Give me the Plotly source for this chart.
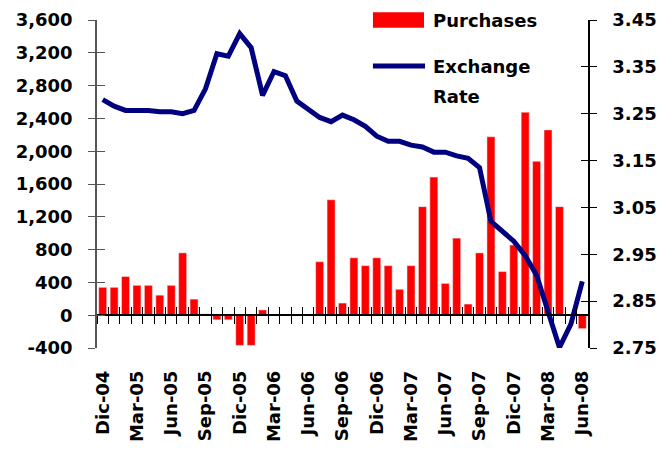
import plotly.graph_objects as go

months = ["Dic-04","Ene-05","Feb-05","Mar-05","Abr-05","May-05","Jun-05","Jul-05","Ago-05","Sep-05","Oct-05","Nov-05",
          "Dic-05","Ene-06","Feb-06","Mar-06","Abr-06","May-06","Jun-06","Jul-06","Ago-06","Sep-06","Oct-06","Nov-06",
          "Dic-06","Ene-07","Feb-07","Mar-07","Abr-07","May-07","Jun-07","Jul-07","Ago-07","Sep-07","Oct-07","Nov-07",
          "Dic-07","Ene-08","Feb-08","Mar-08","Abr-08","May-08","Jun-08"]
purchases = [340, 340, 472, 364, 364, 244, 364, 760, 196, 16, -56, -56,
             -368, -368, 64, 0, 0, 0, 0, 652, 1408, 148, 700, 604,
             700, 604, 316, 604, 1324, 1684, 388, 940, 136, 760, 2176, 532,
             856, 2476, 1876, 2260, 1324, 0, -164]
exchange_rate = [3.280, 3.266, 3.257, 3.257, 3.257, 3.254, 3.254, 3.250, 3.257, 3.303, 3.378, 3.373,
                 3.421, 3.391, 3.289, 3.340, 3.331, 3.277, 3.261, 3.242, 3.233, 3.247, 3.237, 3.223,
                 3.202, 3.191, 3.191, 3.183, 3.179, 3.168, 3.168, 3.160, 3.155, 3.135, 3.020, 2.999,
                 2.978, 2.947, 2.905, 2.828, 2.751, 2.801, 2.892]
tick_labels = ["Dic-04","Mar-05","Jun-05","Sep-05","Dic-05","Mar-06","Jun-06","Sep-06",
               "Dic-06","Mar-07","Jun-07","Sep-07","Dic-07","Mar-08","Jun-08"]
left_ticks = [-400, 0, 400, 800, 1200, 1600, 2000, 2400, 2800, 3200, 3600]
left_tick_text = ["-400", "0", "400", "800", "1,200", "1,600", "2,000", "2,400", "2,800", "3,200", "3,600"]
right_ticks = [2.75, 2.85, 2.95, 3.05, 3.15, 3.25, 3.35, 3.45]

FONT = "DejaVu Sans"
n = len(months)
xr = [-0.5, n - 0.5]
boundaries = [i - 0.5 for i in range(n + 1)]

fig = go.Figure()
fig.add_trace(go.Bar(x=months, y=purchases, marker_color="#FF0000", width=0.7,
                     name="Purchases", xaxis="x", yaxis="y", showlegend=False))
fig.add_trace(go.Scatter(x=months, y=exchange_rate, mode="lines",
                         line=dict(color="#000080", width=5), name="Exchange Rate",
                         xaxis="x", yaxis="y2", showlegend=False))
# helper (empty) traces so overlay axes are rendered
for xa, ya in [("x2", "y"), ("x3", "y"), ("x", "y3"), ("x", "y4")]:
    fig.add_trace(go.Scatter(x=[None], y=[None], xaxis=xa, yaxis=ya, showlegend=False,
                             hoverinfo="skip", mode="markers"))

tf = dict(family=FONT, size=18, color="black", weight="bold")
zero_pos = (0 - left_ticks[0]) / (left_ticks[-1] - left_ticks[0])

fig.update_layout(
    width=664, height=444,
    margin=dict(l=89, r=84, t=12, b=104, autoexpand=False),
    paper_bgcolor="white", plot_bgcolor="white",
    bargap=0.3,
    xaxis=dict(type="category", range=xr, tickmode="array", tickvals=tick_labels, ticktext=tick_labels,
               tickangle=-90, tickfont=dict(family=FONT, size=18, color="black", weight="bold"),
               ticks="", showline=False, showgrid=False, zeroline=False, ticklabelstandoff=18,
               automargin=False, ticklabeloverflow="allow"),
    xaxis2=dict(overlaying="x", anchor="free", position=zero_pos, range=xr, type="linear",
                tickmode="array", tickvals=boundaries, ticks="outside", ticklen=8, tickcolor="black",
                showticklabels=False, showline=True, linecolor="black", linewidth=1.5,
                showgrid=False, zeroline=False, automargin=False),
    xaxis3=dict(overlaying="x", anchor="free", position=zero_pos, range=xr, type="linear",
                tickmode="array", tickvals=boundaries, ticks="inside", ticklen=8, tickcolor="black",
                showticklabels=False, showline=False, showgrid=False, zeroline=False, automargin=False),
    yaxis=dict(range=[left_ticks[0], left_ticks[-1]], tickmode="array", tickvals=left_ticks,
               ticktext=left_tick_text, tickfont=tf, ticks="outside", ticklen=7, tickcolor="#555",
               showline=True, linecolor="#555", linewidth=1.5, showgrid=False, zeroline=False,
               ticklabelstandoff=12, automargin=False, ticklabeloverflow="allow"),
    yaxis2=dict(overlaying="y", side="right", anchor="x", range=[right_ticks[0], right_ticks[-1]],
                tickmode="array", tickvals=right_ticks, tickformat=".2f", tickfont=tf,
                ticks="outside", ticklen=7, tickcolor="black", showline=True, linecolor="black",
                linewidth=1.5, showgrid=False, zeroline=False, ticklabelstandoff=12, automargin=False,
                ticklabeloverflow="allow"),
    yaxis3=dict(overlaying="y", side="left", anchor="x", range=[left_ticks[0], left_ticks[-1]],
                tickmode="array", tickvals=left_ticks, ticks="inside", ticklen=8, tickcolor="#555",
                showticklabels=False, showline=False, showgrid=False, zeroline=False, automargin=False),
    yaxis4=dict(overlaying="y", side="right", anchor="x", range=[right_ticks[0], right_ticks[-1]],
                tickmode="array", tickvals=right_ticks, ticks="inside", ticklen=7, tickcolor="black",
                showticklabels=False, showline=False, showgrid=False, zeroline=False, automargin=False),
    showlegend=False,
)

# custom legend
fig.add_shape(type="rect", xref="paper", yref="paper", x0=0.562, x1=0.666, y0=0.976, y1=1.024,
              fillcolor="#FF0000", line=dict(width=0))
fig.add_shape(type="line", xref="paper", yref="paper", x0=0.562, x1=0.668, y0=0.860, y1=0.860,
              line=dict(color="#000080", width=5))
ann_font = dict(family=FONT, size=18, color="black", weight="bold")
fig.add_annotation(text="Purchases", xref="paper", yref="paper", x=0.680, y=1.0,
                   xanchor="left", yanchor="middle", showarrow=False, font=ann_font)
fig.add_annotation(text="Exchange", xref="paper", yref="paper", x=0.680, y=0.857,
                   xanchor="left", yanchor="middle", showarrow=False, font=ann_font)
fig.add_annotation(text="Rate", xref="paper", yref="paper", x=0.680, y=0.768,
                   xanchor="left", yanchor="middle", showarrow=False, font=ann_font)

fig.write_html("out.html")
